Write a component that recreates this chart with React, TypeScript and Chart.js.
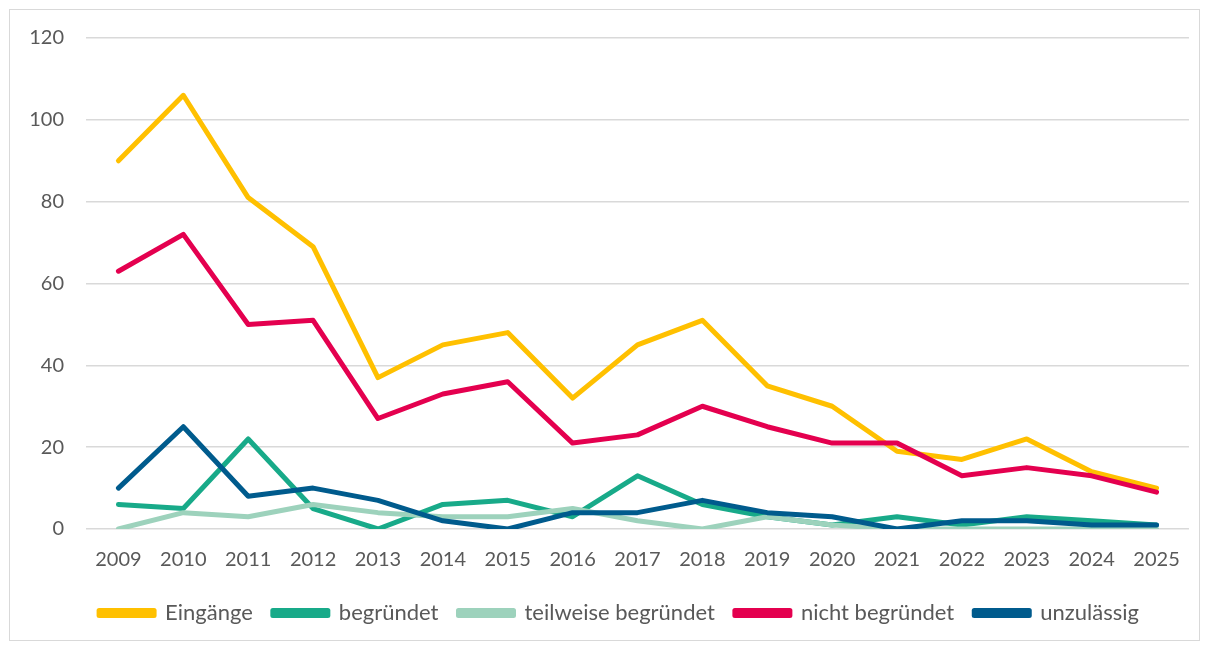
import React, { useEffect, useRef } from "react";
import { Chart, registerables } from "chart.js";

Chart.register(...registerables);

const years = ["2009","2010","2011","2012","2013","2014","2015","2016","2017","2018","2019","2020","2021","2022","2023","2024","2025"];
const eingaenge = [90, 106, 81, 69, 37, 45, 48, 32, 45, 51, 35, 30, 19, 17, 22, 14, 10];
const begruendet = [6, 5, 22, 5, 0, 6, 7, 3, 13, 6, 3, 1, 3, 1, 3, 2, 1];
const teilweise = [0, 4, 3, 6, 4, 3, 3, 5, 2, 0, 3, 1, 0, 0, 0, 0, 0];
const nichtBegruendet = [63, 72, 50, 51, 27, 33, 36, 21, 23, 30, 25, 21, 21, 13, 15, 13, 9];
const unzulaessig = [10, 25, 8, 10, 7, 2, 0, 4, 4, 7, 4, 3, 0, 2, 2, 1, 1];
const yTicks = [0, 20, 40, 60, 80, 100, 120];

const FONT = "Lato, 'Open Sans', sans-serif";
const TEXT = "#595959";

const legendShift = {
  id: "legendShift",
  afterLayout(chart: any) {
    if (chart.legend) {
      chart.legend.left += 19;
      chart.legend.right += 19;
    }
  },
};

export default function App() {
  const ref = useRef<HTMLCanvasElement | null>(null);
  useEffect(() => {
    if (!ref.current) return;
    const mk = (label: string, data: number[], color: string, order: number) => ({
      label,
      data,
      borderColor: color,
      backgroundColor: color,
      borderWidth: 5,
      pointRadius: 0,
      tension: 0,
      borderCapStyle: "round" as const,
      borderJoinStyle: "round" as const,
      order,
    });
    const chart = new Chart(ref.current, {
      type: "line",
      data: {
        labels: years,
        datasets: [
          mk("Eingänge", eingaenge, "#FFC000", 5),
          mk("begründet", begruendet, "#18AA89", 4),
          mk("teilweise begründet", teilweise, "#9DD2BC", 3),
          mk("nicht begründet", nichtBegruendet, "#E4004F", 2),
          mk("unzulässig", unzulaessig, "#005B8D", 1),
        ],
      },
      plugins: [legendShift],
      options: {
        animation: false,
        responsive: false,
        maintainAspectRatio: false,
        layout: { padding: { left: 0, right: 9, top: 28, bottom: 6 } },
        plugins: {
          tooltip: { enabled: false },
          legend: {
            position: "bottom",
            reverse: true,
            labels: {
              boxWidth: 55,
              boxHeight: 5,
              padding: 20,
              color: TEXT,
              font: { family: FONT, size: 22 },
            },
          },
        },
        scales: {
          x: {
            offset: true,
            afterFit: (s: any) => { s.height = s.height - 9; },
            grid: { display: false, drawTicks: false },
            border: { display: false },
            ticks: { color: TEXT, font: { family: FONT, size: 20 }, padding: 19, maxRotation: 0 },
          },
          y: {
            min: 0,
            max: 120,
            afterFit: (s: any) => { s.width = 76; s.paddingTop = 8; s.paddingBottom = 8; },
            afterBuildTicks: (s: any) => { s.ticks = yTicks.map((v) => ({ value: v })); },
            grid: { color: "#D9D9D9", lineWidth: 1.5, drawTicks: false },
            border: { display: false },
            ticks: { color: TEXT, font: { family: FONT, size: 20 }, padding: 22 },
          },
        },
      },
    });
    return () => chart.destroy();
  }, []);
  return (
    <div style={{ marginLeft: 1, marginTop: 1, width: 1189, height: 630, border: "1px solid #D9D9D9", background: "#fff" }}>
      <canvas ref={ref} width={1189} height={630} style={{ display: "block" }} />
    </div>
  );
}
